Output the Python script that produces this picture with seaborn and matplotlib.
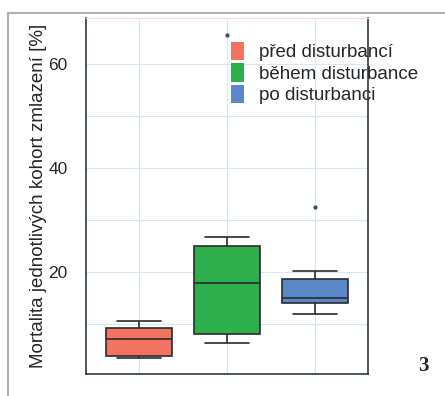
import seaborn as sns
import matplotlib.pyplot as plt
import pandas as pd
from matplotlib.lines import Line2D
from matplotlib.patches import Patch

# Values (mortality of regeneration cohorts, %)
pred = [3.3, 3.8, 7.1, 9.1, 10.5]
behem = [6.3, 7.5, 8.0, 12.0, 17.9, 22.0, 25.0, 26.8, 65.6]
po = [11.9, 13.5, 14.0, 14.5, 14.9, 16.0, 18.6, 20.1, 32.5]
labels = ['před disturbancí', 'během disturbance', 'po disturbanci']
colors = ['#F2735F', '#2DAF4B', '#5A87C8']

df = pd.DataFrame({
    'obdobi': [labels[0]] * len(pred) + [labels[1]] * len(behem) + [labels[2]] * len(po),
    'mortalita': pred + behem + po,
})

sns.set_style('white')
plt.rcParams['font.family'] = ['Liberation Sans', 'DejaVu Sans']

fig = plt.figure(figsize=(4.45, 3.96), dpi=100)
ax = fig.add_axes([0.193, 0.056, 0.634, 0.899])

sns.boxplot(data=df, x='obdobi', y='mortalita', hue='obdobi', order=labels,
            palette=colors, width=0.75, saturation=1, linewidth=1.2,
            linecolor='#2b2b2b',
            flierprops=dict(marker='o', markersize=2, markerfacecolor='#3a4a60',
                            markeredgecolor='#3a4a60'),
            ax=ax, legend=False)

# widen the whisker caps a bit (ggplot-like)
for line in ax.lines:
    xd = list(line.get_xdata())
    yd = list(line.get_ydata())
    if len(xd) == 2 and yd[0] == yd[1] and abs(xd[1] - xd[0]) < 0.5:
        c = (xd[0] + xd[1]) / 2
        line.set_xdata([c - 0.25, c + 0.25])

ax.set_xlim(-0.6, 2.6)
ax.set_ylim(0.3, 69)
ax.set_yticks([20, 40, 60])
ax.set_yticks([10, 30, 50], minor=True)
ax.set_xticks([0, 1, 2])
ax.set_xticklabels([])
ax.tick_params(axis='x', length=0)
ax.tick_params(axis='y', length=0, labelsize=12.5, pad=13)
ax.grid(True, which='both', color='#d6e6f2', linewidth=0.8)
ax.set_axisbelow(True)
ax.set_xlabel('')
ax.set_ylabel('Mortalita jednotlivých kohort zmlazení [%]', fontsize=13.5, labelpad=1)

for side in ['left', 'bottom', 'right']:
    ax.spines[side].set_color('#2b3a4a')
    ax.spines[side].set_linewidth(1.2)
ax.spines['top'].set_color('#f3d9d3')
ax.spines['top'].set_linewidth(0.8)

handles = [Patch(facecolor=c, edgecolor='none') for c in colors]
ax.legend(handles, labels, loc='upper left', bbox_to_anchor=(0.515, 0.933),
          frameon=False, fontsize=13.5, handlelength=0.7, handleheight=1.15,
          handletextpad=0.8, labelspacing=0.1, borderpad=0, borderaxespad=0)

# page frame lines (top and left)
fig.add_artist(Line2D([8 / 445, 1], [1 - 13 / 396, 1 - 13 / 396],
                      color='#b0b0b0', linewidth=1.5, transform=fig.transFigure))
fig.add_artist(Line2D([8 / 445, 8 / 445], [0, 1 - 13 / 396],
                      color='#b0b0b0', linewidth=1.5, transform=fig.transFigure))

fig.text(423 / 445, 1 - 366 / 396, '3', fontsize=15, fontweight='bold',
         family='Liberation Serif', ha='center', va='center')

fig.savefig('out.png', dpi=100)
